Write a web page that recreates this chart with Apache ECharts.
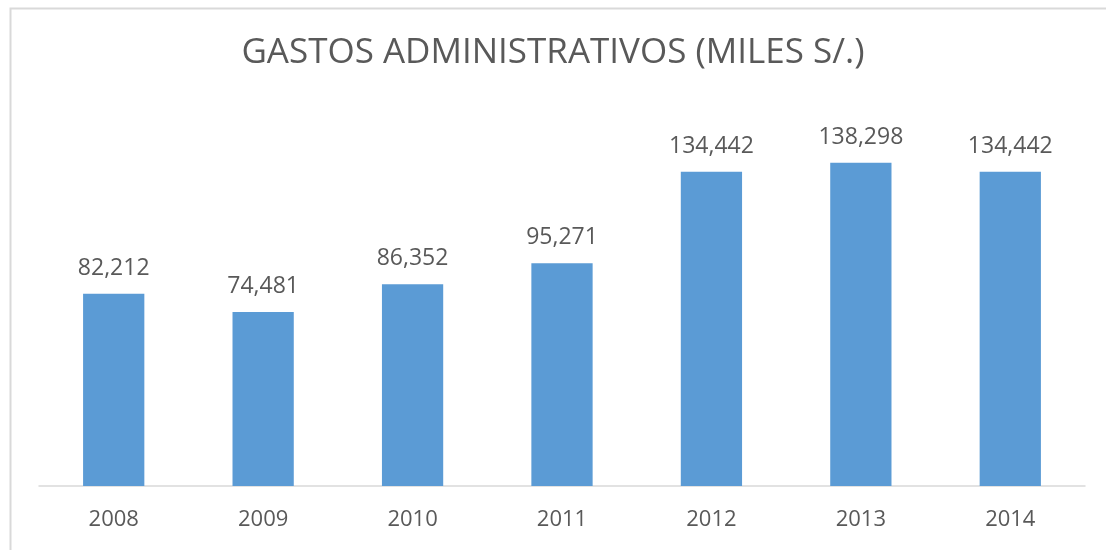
<!DOCTYPE html>
<html><head><meta charset="utf-8">
<script src="https://cdn.jsdelivr.net/npm/echarts@6/dist/echarts.min.js"></script>
<style>html,body{margin:0;padding:0;background:#fff}#c{width:1106px;height:550px}</style>
</head><body><div id="c"></div>
<script>
const categories = ['2008','2009','2010','2011','2012','2013','2014'];
const values = [82212, 74481, 86352, 95271, 134442, 138298, 134442];
const titleText = 'GASTOS ADMINISTRATIVOS (MILES S/.)';

const chart = echarts.init(document.getElementById('c'));
chart.setOption({
  animation: false,
  backgroundColor: '#fff',
  graphic: [{
    type: 'rect', left: 8, top: 6, silent: true,
    shape: { x: 0, y: 0, width: 1110, height: 560 },
    style: { fill: 'none', stroke: '#d9d9d9', lineWidth: 2 }
  }],
  title: {
    text: titleText, left: 'center', top: 31,
    textStyle: { fontFamily: 'Open Sans', fontSize: 35, fontWeight: 'normal', color: '#595959' }
  },
  grid: { left: 39, right: 21, top: 112, bottom: 64 },
  xAxis: {
    type: 'category', data: categories,
    axisLine: { lineStyle: { color: '#d9d9d9', width: 1.5 } },
    axisTick: { show: false },
    axisLabel: { fontFamily: 'Open Sans', fontSize: 22, color: '#595959', margin: 23 }
  },
  yAxis: { type: 'value', min: 0, max: 160000, show: false, splitLine: { show: false } },
  series: [{
    type: 'bar', data: values, barCategoryGap: '59%',
    itemStyle: { color: '#5b9bd5' },
    label: {
      show: true, position: 'top', distance: 14,
      fontFamily: 'Open Sans', fontSize: 23, color: '#595959',
      formatter: p => p.value.toLocaleString('en-US')
    }
  }]
});
</script></body></html>
